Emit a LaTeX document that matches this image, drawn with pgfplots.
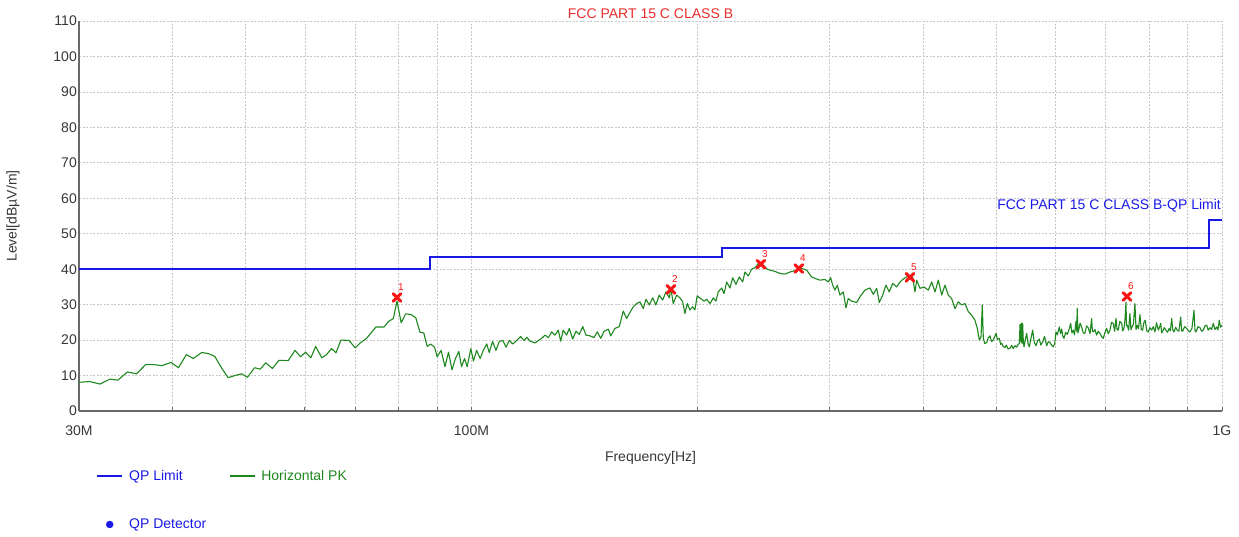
\documentclass[border=0pt]{standalone}
\usepackage{fontspec}
\setmainfont{Liberation Sans}
\usepackage{pgfplots}
\pgfplotsset{compat=1.18}

\definecolor{limitblue}{RGB}{25,25,230}
\definecolor{pkgreen}{RGB}{30,135,30}
\definecolor{titlered}{RGB}{235,45,45}
\definecolor{markred}{RGB}{250,20,20}
\definecolor{spine}{RGB}{105,105,105}
\definecolor{gridgray}{RGB}{200,200,200}
\definecolor{ticktext}{RGB}{55,55,55}

\begin{document}
\begin{tikzpicture}
\useasboundingbox (-79pt,-125pt) rectangle (1160pt,411pt);
\begin{axis}[
    at={(0pt,0pt)}, anchor=south west,
    scale only axis, width=1143pt, height=390pt,
    xmode=log, xmin=30, xmax=1000, ymin=0, ymax=110,
    xtick={30,40,50,60,70,80,90,100,200,300,400,500,600,700,800,900,1000},
    xticklabels={30M,,,,,,,100M,,,,,,,,,1G},
    ytick={0,10,...,110},
    font=\fontsize{14}{16}\selectfont,
    /pgf/number format/assume math mode=true,
    axis x line=bottom, axis y line=left,
    axis line style={-, draw=spine, line width=2pt},
    tick align=inside, major tick length=4pt,
    xtick style={draw=spine, line width=1pt},
    ytick style={draw=none},
    grid=major,
    major grid style={draw=gridgray, line width=0.8pt, dash pattern=on 2pt off 1.5pt},
    ticklabel style={text=ticktext},
    yticklabel style={inner sep=2pt},
    xticklabel style={yshift=-11pt},
    xlabel={Frequency[Hz]}, ylabel={Level[dBµV/m]},
    xlabel style={at={(axis description cs:0.5,-0.1205)}, anchor=center, text=ticktext},
    ylabel style={at={(axis description cs:-0.0577,0.5)}, anchor=center, text=ticktext},
    title={FCC PART 15 C CLASS B},
    title style={at={(axis description cs:0.5,1)}, anchor=base, yshift=-3pt, text=titlered},
    legend columns=2,
    legend cell align=left,
    legend image code/.code={\draw[mark repeat=2,mark phase=2,#1] plot coordinates {(0pt,0pt) (12.5pt,0pt) (25pt,0pt)};},
    legend style={draw=none, fill=none, inner sep=0pt,
        at={(axis description cs:0,0)}, anchor=north west,
        xshift=17pt, yshift=-57pt, row sep=33pt,
        /tikz/every odd column/.append style={column sep=4pt},
        /tikz/every even column/.append style={column sep=21pt}},
]
% QP limit
\addplot[limitblue, line width=2pt] coordinates {
    (30,40) (88,40) (88,43.5) (216,43.5) (216,46) (960,46) (960,54) (1000,54)};
\addlegendentry[text=limitblue]{QP Limit}

% Horizontal PK trace
\addplot[pkgreen, line width=1.1pt, line join=round] table[x=f, y=lvl] {
f lvl
30.0 8.1
31.0 8.3
32.0 7.6
33.0 9.0
33.8 8.7
34.8 11.0
35.8 10.5
36.8 13.1
37.7 13.1
38.7 12.8
39.8 13.7
40.7 12.2
41.7 15.9
42.6 14.8
43.7 16.5
44.6 16.2
45.5 15.4
46.5 12.0
47.4 9.4
48.4 10.0
49.4 10.5
50.3 9.5
51.4 12.2
52.3 11.8
53.2 13.6
54.3 12.0
55.4 14.3
57.0 14.2
58.2 17.1
59.2 15.3
60.1 16.6
61.1 15.0
62.0 18.2
63.2 15.0
64.1 15.9
65.1 17.6
66.0 16.4
67.0 20.0
68.7 19.9
70.0 17.8
71.0 19.1
72.5 20.5
74.6 23.7
76.5 23.7
77.5 25.2
78.7 26.1
79.6 31.0
80.6 24.9
81.7 27.4
83.1 27.2
84.3 26.3
85.4 22.2
86.4 22.0
87.3 18.2
88.2 18.9
89.3 18.0
90.0 15.3
91.1 17.1
92.2 12.5
93.2 16.6
94.2 11.6
95.2 14.8
96.2 16.8
97.0 12.5
97.9 14.8
98.7 12.5
99.8 17.6
100.6 14.1
101.6 17.1
102.7 14.8
103.7 17.1
104.8 18.9
105.6 16.5
106.7 19.6
107.8 17.1
108.9 19.6
110.1 19.9
111.2 18.0
112.3 19.9
113.5 18.9
114.9 19.9
116.3 21.0
117.5 19.9
118.5 20.8
119.7 19.7
121.5 19.2
124.0 20.5
125.3 21.4
126.6 20.7
127.9 22.3
129.2 21.4
130.5 22.8
131.5 19.7
132.5 22.8
133.9 21.4
135.0 23.3
136.4 20.3
137.8 22.5
139.2 21.6
140.7 23.8
142.1 21.4
143.9 21.2
145.6 20.7
147.1 22.3
148.7 20.5
150.2 22.5
152.2 23.1
153.3 21.2
155.3 23.3
157.4 23.8
159.3 28.2
161.0 26.1
162.3 27.5
164.3 29.4
166.0 30.3
167.7 30.8
169.4 28.9
170.8 31.5
172.6 29.9
174.4 31.9
176.1 29.9
177.9 32.7
179.8 31.3
181.6 33.6
183.5 31.9
184.4 34.6
185.7 30.3
187.7 32.7
189.6 31.9
191.2 30.8
192.5 27.5
193.9 30.3
195.5 28.5
197.1 29.4
198.5 28.5
199.9 32.5
202.0 31.7
204.1 31.0
205.8 31.5
207.9 30.3
210.0 31.9
211.7 31.0
213.2 33.6
215.5 34.7
217.0 33.1
218.8 36.4
221.0 34.7
222.9 37.6
225.1 35.7
227.4 37.8
229.8 36.4
231.4 39.2
233.8 38.1
236.2 40.0
238.6 40.4
241.8 41.9
244.8 41.1
247.8 40.0
249.9 39.7
253.5 39.4
257.7 38.8
261.5 38.6
265.7 39.2
270.0 39.6
274.0 40.4
279.7 39.7
284.0 37.8
286.9 37.4
291.3 36.9
295.8 37.1
298.8 36.4
301.0 37.6
302.9 35.5
305.0 34.1
307.2 35.5
309.7 32.7
312.9 33.6
315.5 29.1
317.7 31.7
321.0 31.0
326.0 30.6
329.3 32.2
334.4 34.1
339.6 34.7
343.1 32.9
346.7 34.6
349.4 30.6
353.1 32.7
356.7 35.5
360.3 33.6
364.1 36.0
368.6 35.0
372.4 36.4
377.0 37.4
382.0 38.1
387.2 37.6
389.9 33.6
392.0 36.9
395.9 34.6
400.8 35.0
406.1 34.1
410.4 36.4
414.6 33.6
418.8 36.9
423.2 32.7
427.5 35.5
431.8 32.7
436.3 31.7
440.8 28.9
445.3 30.8
449.9 29.9
454.5 30.3
459.2 28.0
464.0 27.0
468.7 25.6
472.0 23.3
474.9 20.0
477.4 20.9
479.3 29.9
480.8 20.5
483.0 19.0
485.8 19.3
488.0 20.6
490.8 21.2
493.0 19.6
495.8 20.0
498.0 21.0
499.9 21.9
502.0 20.2
505.0 20.5
507.0 18.8
508.7 19.1
511.0 18.2
513.8 17.9
516.0 18.6
518.5 17.5
521.8 17.7
524.5 18.5
527.0 17.6
529.9 18.4
532.5 18.0
535.3 18.8
537.0 19.0
538.1 24.4
539.5 19.5
540.5 24.8
541.5 19.0
542.5 24.7
543.5 20.0
544.7 18.1
547.0 20.2
549.2 21.9
551.5 19.0
553.6 18.1
556.5 20.5
559.4 22.8
562.0 19.5
565.1 18.4
568.0 19.8
570.9 20.3
573.5 18.6
576.9 19.5
580.0 21.0
584.0 18.4
587.0 19.6
589.9 19.3
593.0 18.5
595.9 18.1
598.5 19.0
600.9 22.3
603.5 21.5
607.0 23.7
609.5 21.8
611.5 23.1
613.5 21.2
615.8 20.5
619.0 22.2
622.1 21.6
625.5 23.0
628.6 24.7
631.0 22.0
633.6 22.8
636.0 21.5
638.9 25.3
640.3 22.5
641.4 28.9
642.8 22.0
644.2 22.8
647.0 24.8
650.1 23.7
653.5 22.0
656.7 21.9
660.0 24.0
663.4 23.5
667.0 21.8
670.4 26.1
672.0 22.5
673.7 22.3
677.0 23.0
680.7 21.4
684.0 22.5
687.7 21.9
691.0 21.0
694.7 20.5
698.0 22.0
701.9 23.3
705.5 21.8
709.1 22.8
712.5 25.0
716.3 24.7
719.5 22.5
722.3 26.1
724.8 23.0
727.4 22.8
731.0 25.3
735.0 24.7
737.5 22.6
740.2 23.3
742.5 25.5
744.8 30.7
746.2 24.0
747.8 24.2
751.0 22.8
754.0 27.5
756.3 22.9
758.6 23.7
762.0 24.5
765.6 30.3
768.3 23.0
771.1 24.2
774.0 23.2
777.5 27.2
780.8 23.0
784.0 22.8
787.0 25.0
790.2 25.6
794.0 22.6
797.5 22.3
801.5 23.5
805.9 22.8
810.0 23.8
814.1 22.3
818.0 24.9
822.4 22.8
825.5 23.6
828.5 24.7
831.0 22.0
833.6 22.5
837.5 23.5
842.0 22.8
846.0 22.2
850.6 23.3
853.5 22.6
856.9 26.1
860.0 22.8
863.0 22.3
867.5 23.6
871.7 22.8
876.0 22.5
880.9 26.5
883.5 22.6
886.3 22.5
891.5 23.8
897.2 23.3
902.0 22.6
906.4 22.3
912.0 23.4
917.6 28.4
920.5 22.7
923.2 22.3
929.0 23.8
934.6 23.5
939.5 22.5
944.1 22.8
949.0 24.0
954.0 24.2
958.5 22.8
963.7 23.5
968.5 23.0
973.5 24.7
978.5 23.0
983.7 23.7
987.5 22.9
991.6 25.6
995.5 23.6
1000 24.2
};
\addlegendentry[text=pkgreen]{Horizontal PK}

% detected peaks
\addplot[only marks, mark=x, mark size=5.5pt, color=markred,
    mark options={line width=3pt, line cap=round},
    forget plot, point meta=explicit symbolic, nodes near coords,
    nodes near coords style={text=markred, font=\fontsize{10}{10}\selectfont,
        anchor=center, xshift=4pt, yshift=10pt}]
    coordinates {
    (79.6,32.0) [1]
    (184.4,34.3) [2]
    (243.0,41.4) [3]
    (273.0,40.2) [4]
    (384.0,37.7) [5]
    (747.0,32.3) [6]
};

\addlegendimage{only marks, mark=*, mark size=3.5pt, color=limitblue}
\addlegendentry[text=limitblue]{QP Detector}

\node[text=limitblue, anchor=east, inner sep=0pt, xshift=-1pt]
    at (axis cs:1000,57.9) {FCC PART 15 C CLASS B-QP Limit};
\end{axis}
\end{tikzpicture}
\end{document}
